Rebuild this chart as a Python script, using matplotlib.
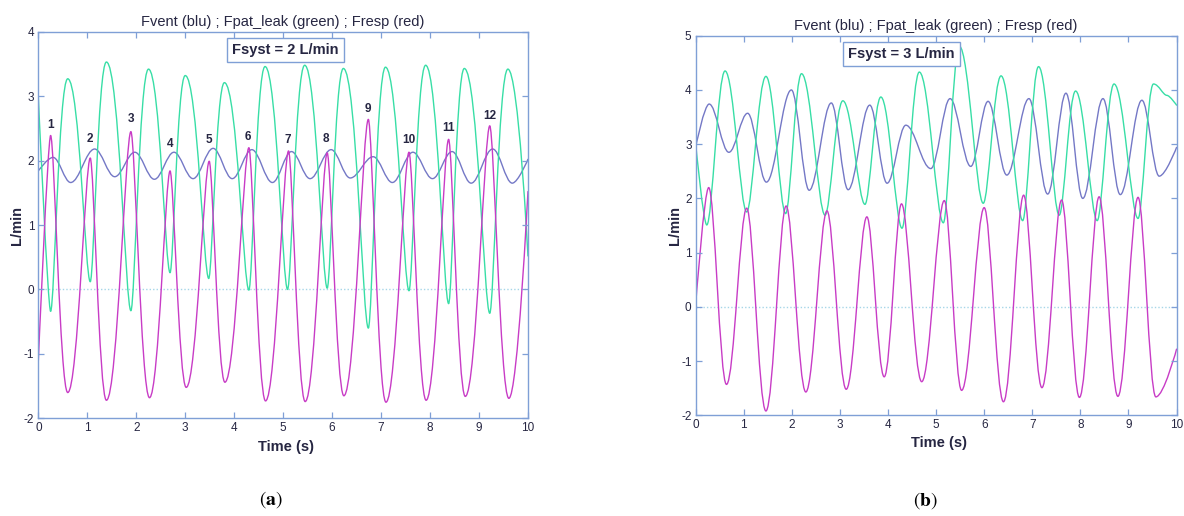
import numpy as np
import matplotlib
matplotlib.use("Agg")
import matplotlib.pyplot as plt
from matplotlib.path import Path
from matplotlib.patches import PathPatch

# ---------------- data (extrema) ----------------
# Panel (a): Fsyst = 2 L/min
a_red_t = [0.00, 0.25, 0.60, 1.06, 1.39, 1.89, 2.27, 2.69, 3.02, 3.49, 3.81, 4.30, 4.64,
           5.11, 5.45, 5.90, 6.24, 6.74, 7.10, 7.57, 7.92, 8.38, 8.72, 9.22, 9.61, 10.0]
a_red_v = [-1.10, 2.39, -1.60, 2.04, -1.72, 2.45, -1.68, 1.84, -1.52, 1.99, -1.44, 2.20, -1.73,
           2.15, -1.74, 2.12, -1.65, 2.64, -1.75, 2.13, -1.72, 2.33, -1.66, 2.54, -1.69, 1.52]

a_green_t = [0.00, 0.25, 0.60, 1.06, 1.39, 1.89, 2.25, 2.69, 3.00, 3.48, 3.80, 4.30, 4.63,
             5.09, 5.44, 5.90, 6.23, 6.74, 7.09, 7.57, 7.91, 8.38, 8.70, 9.22, 9.59, 10.0]
a_green_v = [2.98, -0.34, 3.27, 0.12, 3.53, -0.33, 3.42, 0.26, 3.32, 0.17, 3.21, -0.01, 3.46,
             0.00, 3.48, 0.02, 3.43, -0.60, 3.45, -0.02, 3.48, -0.22, 3.43, -0.37, 3.42, 0.52]

a_blue_t = [0.00, 0.30, 0.66, 1.15, 1.56, 1.97, 2.37, 2.77, 3.16, 3.57, 3.96, 4.36, 4.78,
            5.17, 5.55, 5.98, 6.37, 6.84, 7.23, 7.65, 8.05, 8.45, 8.84, 9.28, 9.68, 10.0]
a_blue_v = [1.84, 2.05, 1.66, 2.18, 1.75, 2.13, 1.71, 2.13, 1.72, 2.19, 1.72, 2.17, 1.66,
            2.14, 1.72, 2.17, 1.73, 2.06, 1.66, 2.13, 1.72, 2.14, 1.65, 2.18, 1.65, 2.02]

a_label_text = ["1", "2", "3", "4", "5", "6", "7", "8", "9", "10", "11", "12"]
a_label_t = [0.25, 1.06, 1.89, 2.69, 3.49, 4.28, 5.09, 5.88, 6.74, 7.57, 8.38, 9.22]
a_label_v = [2.56, 2.33, 2.64, 2.25, 2.32, 2.37, 2.32, 2.33, 2.80, 2.32, 2.51, 2.69]

# Panel (b): Fsyst = 3 L/min
b_red_t = [0.00, 0.27, 0.64, 1.06, 1.46, 1.88, 2.29, 2.73, 3.13, 3.56, 3.92, 4.28, 4.70,
           5.17, 5.53, 6.00, 6.40, 6.82, 7.20, 7.61, 7.98, 8.39, 8.78, 9.20, 9.57, 10.0]
b_red_v = [0.05, 2.20, -1.43, 1.82, -1.92, 1.86, -1.57, 1.77, -1.52, 1.66, -1.29, 1.90, -1.38,
           1.96, -1.54, 1.83, -1.75, 2.06, -1.49, 1.97, -1.67, 2.03, -1.65, 2.02, -1.66, -0.78]

b_green_t = [0.00, 0.23, 0.61, 1.06, 1.46, 1.87, 2.20, 2.69, 3.06, 3.52, 3.85, 4.29, 4.65,
             5.15, 5.48, 5.98, 6.35, 6.80, 7.13, 7.56, 7.90, 8.35, 8.70, 9.20, 9.52, 9.80, 10.0]
b_green_v = [3.00, 1.51, 4.35, 1.75, 4.25, 1.72, 4.30, 1.69, 3.80, 1.89, 3.87, 1.45, 4.33,
             1.55, 4.81, 1.91, 4.26, 1.59, 4.43, 1.69, 3.98, 1.59, 4.11, 1.63, 4.11, 3.90, 3.72]

b_blue_t = [0.00, 0.28, 0.69, 1.08, 1.47, 1.99, 2.36, 2.82, 3.17, 3.62, 3.98, 4.37, 4.89,
            5.29, 5.72, 6.08, 6.47, 6.93, 7.32, 7.70, 8.05, 8.47, 8.83, 9.28, 9.64, 10.0]
b_blue_v = [2.95, 3.74, 2.85, 3.57, 2.30, 4.00, 2.15, 3.76, 2.16, 3.72, 2.28, 3.35, 2.55,
            3.84, 2.59, 3.79, 2.43, 3.84, 2.08, 3.94, 2.00, 3.84, 2.07, 3.81, 2.41, 2.94]

title_text = "Fvent (blu) ; Fpat_leak (green) ; Fresp (red)"
box_texts = ["Fsyst = 2 L/min", "Fsyst = 3 L/min"]
panel_tags = ["a", "b"]

# ---------------- style ----------------
C_BLUE = "#7478c6"
C_GREEN = "#38dea6"
C_RED = "#c83cc6"
C_SPINE = "#7f9fd6"
C_TXT = "#262642"
C_ZERO = "#a6d6e8"
FONT = ["Liberation Sans Narrow", "Liberation Sans", "DejaVu Sans"]

plt.rcParams["font.family"] = FONT
plt.rcParams["mathtext.fontset"] = "stix"
plt.rcParams["axes.unicode_minus"] = False


def smooth_curve(ax, ts, vs, color, k_peak=0.36, k_trough=0.36, lw=1.0):
    n = len(ts)

    def kval(i):
        if i == 0 or i == n - 1:
            return 0.0
        if vs[i] > vs[i - 1] and vs[i] > vs[i + 1]:
            return k_peak
        if vs[i] < vs[i - 1] and vs[i] < vs[i + 1]:
            return k_trough
        return 0.3

    verts = [(ts[0], vs[0])]
    codes = [Path.MOVETO]
    for i in range(n - 1):
        t0, t1 = ts[i], ts[i + 1]
        y0, y1 = vs[i], vs[i + 1]
        dt = t1 - t0
        verts += [(t0 + kval(i) * dt, y0), (t1 - kval(i + 1) * dt, y1), (t1, y1)]
        codes += [Path.CURVE4] * 3
    ax.add_patch(PathPatch(Path(verts, codes), fill=False, edgecolor=color,
                           lw=lw, joinstyle="round", capstyle="round"))


def style_axes(ax, ylim):
    ax.set_xlim(0, 10)
    ax.set_ylim(*ylim)
    ax.set_xticks(range(0, 11))
    ax.set_yticks(range(ylim[0], ylim[1] + 1))
    for s in ax.spines.values():
        s.set_color(C_SPINE)
        s.set_linewidth(1.0)
    ax.tick_params(direction="in", top=True, right=True, length=4, width=0.9,
                   color=C_SPINE, labelsize=8.5, labelcolor=C_TXT, pad=3)
    ax.axhline(0, color=C_ZERO, lw=1.0, ls=(0, (1, 1.5)), zorder=0)


fig = plt.figure(figsize=(11.84, 5.16), dpi=100)
axA = fig.add_axes([0.0324, 0.1893, 0.4135, 0.7492])
axB = fig.add_axes([0.5876, 0.1951, 0.4061, 0.7357])

panels = [
    (axA, (-2, 4), a_blue_t, a_blue_v, a_green_t, a_green_v, a_red_t, a_red_v,
     dict(k_peak=0.52, k_trough=0.22), dict(k_peak=0.22, k_trough=0.45), (5.04, 3.72)),
    (axB, (-2, 5), b_blue_t, b_blue_v, b_green_t, b_green_v, b_red_t, b_red_v,
     dict(k_peak=0.40, k_trough=0.30), dict(k_peak=0.33, k_trough=0.38), (4.27, 4.66)),
]

for idx, (ax, ylim, bt, bv, gt, gv, rt, rv, gk, rk, boxpos) in enumerate(panels):
    style_axes(ax, ylim)
    smooth_curve(ax, bt, bv, C_BLUE)
    smooth_curve(ax, gt, gv, C_GREEN, **gk)
    smooth_curve(ax, rt, rv, C_RED, **rk)
    ax.set_title(title_text, fontsize=10.5, color=C_TXT, pad=4)
    ax.text(boxpos[0], boxpos[1], box_texts[idx], ha="center", va="center",
            fontsize=10.5, fontweight="bold", color=C_TXT,
            bbox=dict(boxstyle="square,pad=0.36", fc="white", ec=C_SPINE, lw=1.0))
    ax.text(-0.044, 0.5, "L/min", transform=ax.transAxes, rotation=90,
            ha="center", va="center", fontsize=10.5, fontweight="bold", color=C_TXT)
    ax.text(0.506, -0.073, "Time (s)", transform=ax.transAxes,
            ha="center", va="center", fontsize=10.5, fontweight="bold", color=C_TXT)

for txt, t, v in zip(a_label_text, a_label_t, a_label_v):
    axA.text(t, v, txt, ha="center", va="center", fontsize=8.5,
             fontweight="bold", color=C_TXT)

fig.text(271 / 1184, 1 - 500 / 516, r"$(\mathbf{%s})$" % panel_tags[0],
         ha="center", va="center", fontsize=14, color="black")
fig.text(925 / 1184, 1 - 501 / 516, r"$(\mathbf{%s})$" % panel_tags[1],
         ha="center", va="center", fontsize=14, color="black")

fig.savefig("out.png", dpi=100, facecolor="white")
